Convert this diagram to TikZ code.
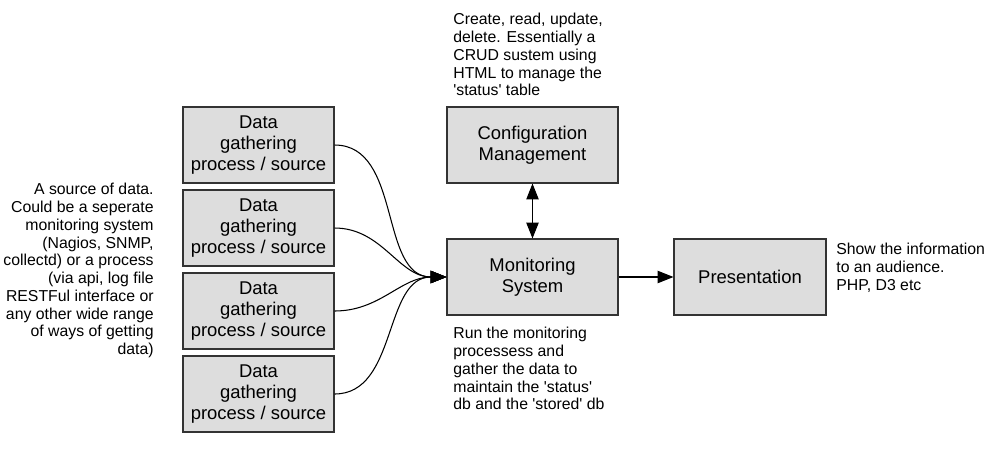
\documentclass[tikz,border=0pt]{standalone}
\usepackage{fontspec}
\setmainfont{Liberation Sans}[Ligatures=TeXOff]
\usetikzlibrary{arrows.meta}
\definecolor{boxgray}{RGB}{221,221,221}
\definecolor{edgegray}{RGB}{51,51,51}
\begin{document}
\begin{tikzpicture}[
    x=0.02cm, y=-0.02cm,
    block/.style={rectangle, draw=edgegray, line width=0.6pt, fill=boxgray, align=center, minimum height=1.52cm, inner sep=0pt, font=\fontsize{10.5}{11.9}\selectfont},
    note/.style={inner sep=0pt, font=\fontsize{9}{10.1}\selectfont},
    line/.style={draw, line width=0.6pt, -{Triangle[length=9pt,width=7pt]}}
]
    \useasboundingbox (0,0) rectangle (1000,454);

    \node [block, minimum width=3.02cm] (src1) at (258.5,145) {Data\\gathering\\process / source};
    \node [block, minimum width=3.02cm] (src2) at (258.5,228) {Data\\gathering\\process / source};
    \node [block, minimum width=3.02cm] (src3) at (258.5,311) {Data\\gathering\\process / source};
    \node [block, minimum width=3.02cm] (src4) at (258.5,394) {Data\\gathering\\process / source};
    \node [block, minimum width=3.42cm] (config) at (532.5,145) {Configuration\\Management};
    \node [block, minimum width=3.42cm] (monitor) at (532.5,277) {Monitoring\\System};
    \node [block, minimum width=3.04cm] (present) at (750,277) {Presentation};

    \node [note, anchor=north east, align=right] (srcnote) at (154,183) {A source of data.\\Could be a seperate\\monitoring system\\(Nagios, SNMP,\\collectd) or a process\\(via api, log file\\RESTFul interface or\\any other wide range\\of ways of getting\\data)};
    \node [note, anchor=north west, align=left] (confignote) at (453,13) {Create, read, update,\\delete. Essentially a\\CRUD sustem using\\HTML to manage the\\'status' table};
    \node [note, anchor=north west, align=left] (monitornote) at (453,327) {Run the monitoring\\processess and\\gather the data to\\maintain the 'status'\\db and the 'stored' db};
    \node [note, anchor=north west, align=left] (presentnote) at (836,243) {Show the information\\to an audience.\\PHP, D3 etc};

    \draw [line] (src1.east) to [out=0, in=180] (monitor.west);
    \draw [line] (src2.east) to [out=0, in=180] (monitor.west);
    \draw [line] (src3.east) to [out=0, in=180] (monitor.west);
    \draw [line] (src4.east) to [out=0, in=180] (monitor.west);
    \draw [line] (monitor) -- (present);
    \draw [line, {Triangle[length=9pt,width=7pt]}-{Triangle[length=9pt,width=7pt]}] (config) -- (monitor);
\end{tikzpicture}
\end{document}
